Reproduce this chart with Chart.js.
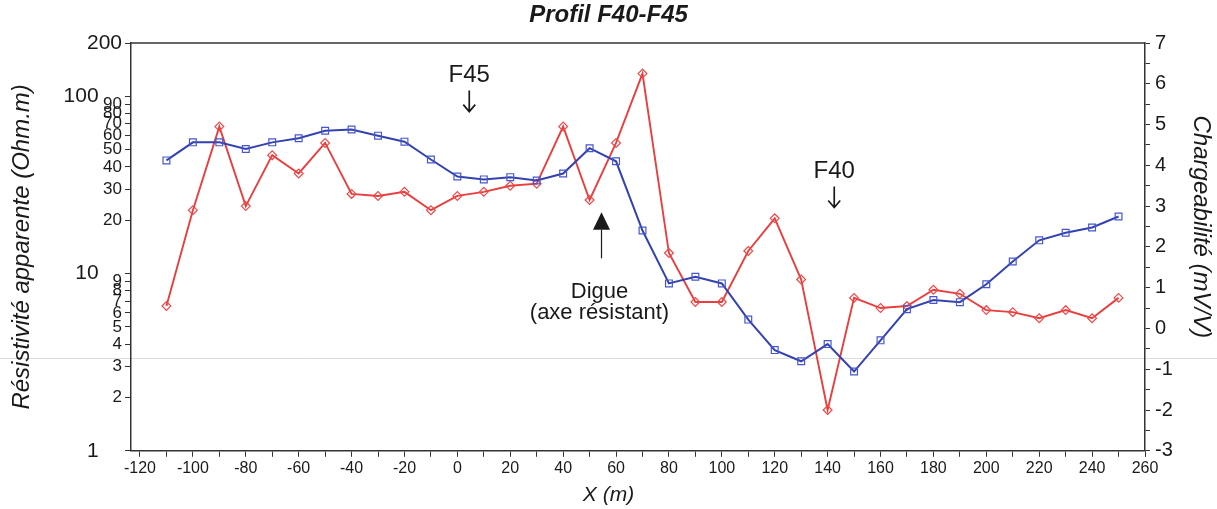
<!DOCTYPE html>
<html>
<head>
<meta charset="utf-8">
<title>Profil F40-F45</title>
<script src="https://cdn.jsdelivr.net/npm/chart.js@4.4.1/dist/chart.umd.min.js"></script>
<style>
  html, body { margin: 0; padding: 0; background: #fff; }
  #chart { display: block; }
</style>
</head>
<body>
<canvas id="chart" width="1217" height="509"></canvas>
<script>
/* ---------- Data ---------- */
const xPositions = [-110, -100, -90, -80, -70, -60, -50, -40, -30, -20, -10, 0, 10, 20, 30, 40, 50, 60, 70,
                    80, 90, 100, 110, 120, 130, 140, 150, 160, 170, 180, 190, 200, 210, 220, 230, 240, 250];

// résistivité apparente (Ohm.m) - axe log gauche
const resistivity = [43.5, 55, 55, 50.5, 55, 58, 64, 65, 60, 55.5, 44, 35.3, 34, 35, 33.5, 36.7, 51, 43, 17.5,
                     8.8, 9.6, 8.8, 5.5, 3.7, 3.2, 4.0, 2.8, 4.2, 6.3, 7.1, 6.9, 8.7, 11.7, 15.4, 17, 18.2, 21];

// chargeabilité (mV/V) - axe droit
const chargeability = [0.55, 2.9, 4.95, 3.0, 4.25, 3.8, 4.55, 3.3, 3.25, 3.35, 2.9, 3.25, 3.35, 3.5, 3.55, 4.95, 3.15, 4.55, 6.25,
                       1.85, 0.65, 0.65, 1.9, 2.7, 1.2, -2.0, 0.75, 0.5, 0.55, 0.95, 0.85, 0.45, 0.4, 0.25, 0.45, 0.25, 0.75];

const xTicks   = [-120, -110, -100, -90, -80, -70, -60, -50, -40, -30, -20, -10, 0, 10, 20, 30, 40, 50, 60, 70, 80,
                  90, 100, 110, 120, 130, 140, 150, 160, 170, 180, 190, 200, 210, 220, 230, 240, 250, 260];
const resTicks = [1, 2, 3, 4, 5, 6, 7, 8, 9, 10, 20, 30, 40, 50, 60, 70, 80, 90, 100, 200];
const resMajor = [1, 10, 100];
const chgTicks = [-3, -2.5, -2, -1.5, -1, -0.5, 0, 0.5, 1, 1.5, 2, 2.5, 3, 3.5, 4, 4.5, 5, 5.5, 6, 6.5, 7];

// annotations (en unités X / chargeabilité)
const wells     = ['F45', 'F40'];
const wellX     = [4.5, 142.5];
const wellY     = [6.2, 3.85];
const digueX    = 54.5;
const digueText = ['Digue', '(axe résistant)'];

/* ---------- Styles ---------- */
const FONT  = '"Liberation Sans", Arial, Helvetica, sans-serif';
const BLUE  = '#3442b0';
const RED   = '#e93e3e';
const INK   = '#1a1a1a';
const AXIS  = '#333';
const NBSP  = '\u00a0';

/* ---------- Plugin: cadre, annotations ---------- */
const frameAndNotes = {
  id: 'frameAndNotes',
  beforeDraw(chart) {
    const { ctx, width, scales: { yChg } } = chart;
    // trait gris du scan
    const yScan = Math.round(yChg.getPixelForValue(-0.72)) + 0.5;
    ctx.save();
    ctx.strokeStyle = '#dcdcdc';
    ctx.lineWidth = 1;
    ctx.beginPath();
    ctx.moveTo(0, yScan);
    ctx.lineTo(width, yScan);
    ctx.stroke();
    ctx.restore();
  },
  afterDraw(chart) {
    const { ctx, chartArea: ca, scales: { x, yChg } } = chart;
    ctx.save();
    // bord supérieur
    ctx.strokeStyle = AXIS;
    ctx.lineWidth = 1.5;
    ctx.beginPath();
    ctx.moveTo(ca.left, ca.top);
    ctx.lineTo(ca.right, ca.top);
    ctx.stroke();

    ctx.fillStyle = INK;
    ctx.strokeStyle = INK;
    ctx.textAlign = 'center';
    ctx.textBaseline = 'middle';

    // forages F45 / F40
    ctx.font = '24px ' + FONT;
    wells.forEach((name, i) => {
      const cx = x.getPixelForValue(wellX[i]);
      const cy = yChg.getPixelForValue(wellY[i]);
      ctx.fillText(name, cx, cy);
      const y1 = cy + 15, y2 = cy + 36;
      ctx.lineWidth = 1.7;
      ctx.beginPath();
      ctx.moveTo(cx, y1);
      ctx.lineTo(cx, y2);
      ctx.moveTo(cx - 6, y2 - 7);
      ctx.lineTo(cx, y2);
      ctx.lineTo(cx + 6, y2 - 7);
      ctx.stroke();
    });

    // flèche pleine de la digue
    const dx = x.getPixelForValue(digueX);
    const tipY = yChg.getPixelForValue(2.85);
    const baseY = yChg.getPixelForValue(2.42);
    const tailY = yChg.getPixelForValue(1.72);
    ctx.beginPath();
    ctx.moveTo(dx, tipY);
    ctx.lineTo(dx - 8.5, baseY);
    ctx.lineTo(dx + 8.5, baseY);
    ctx.closePath();
    ctx.fill();
    ctx.lineWidth = 1.2;
    ctx.beginPath();
    ctx.moveTo(dx, baseY);
    ctx.lineTo(dx, tailY);
    ctx.stroke();

    ctx.font = '22px ' + FONT;
    ctx.fillText(digueText[0], dx - 2, yChg.getPixelForValue(0.9));
    ctx.fillText(digueText[1], dx - 2, yChg.getPixelForValue(0.37));
    ctx.restore();
  }
};

/* ---------- Chart ---------- */
const ctx = document.getElementById('chart');

new Chart(ctx, {
  type: 'line',
  data: {
    datasets: [
      {
        label: 'Résistivité apparente',
        data: xPositions.map((x, i) => ({ x, y: resistivity[i] })),
        yAxisID: 'yRes',
        borderColor: BLUE,
        borderWidth: 2,
        pointStyle: 'rect',
        pointRadius: 4.8,
        pointBorderColor: '#4656d0',
        pointBorderWidth: 1.2,
        pointBackgroundColor: 'rgba(255,255,255,0)',
        tension: 0
      },
      {
        label: 'Chargeabilité',
        data: xPositions.map((x, i) => ({ x, y: chargeability[i] })),
        yAxisID: 'yChg',
        borderColor: RED,
        borderWidth: 1.9,
        pointStyle: 'rectRot',
        pointRadius: 4.4,
        pointBorderColor: '#f04848',
        pointBorderWidth: 1.2,
        pointBackgroundColor: 'rgba(255,255,255,0)',
        tension: 0
      }
    ]
  },
  options: {
    responsive: false,
    animation: false,
    layout: { padding: 0 },
    plugins: {
      legend: { display: false },
      tooltip: { enabled: false },
      title: {
        display: true,
        text: 'Profil F40-F45',
        color: INK,
        font: { family: FONT, size: 24, weight: 'bold', style: 'italic' },
        padding: { top: 1, bottom: 13.2 }
      },
      subtitle: {
        display: true,
        position: 'bottom',
        text: 'X (m)',
        color: INK,
        font: { family: FONT, size: 21, style: 'italic' },
        padding: { top: 0, bottom: 1 }
      }
    },
    scales: {
      x: {
        type: 'linear',
        min: -123.4,
        max: 260,
        afterBuildTicks: (s) => { s.ticks = xTicks.map(v => ({ value: v })); },
        afterFit: (s) => { s.height = 32; },
        ticks: {
          autoSkip: false,
          maxRotation: 0,
          padding: 2,
          color: INK,
          font: { family: FONT, size: 16 },
          callback: (v) => (v % 20 === 0 ? String(v) : '')
        },
        grid: { drawOnChartArea: false, drawTicks: true, tickLength: 6, color: AXIS },
        border: { color: AXIS, width: 1.5 }
      },
      yRes: {
        type: 'logarithmic',
        position: 'left',
        min: 1,
        max: 200,
        afterBuildTicks: (s) => { s.ticks = resTicks.map(v => ({ value: v })); },
        afterFit: (s) => { s.width = 131; },
        ticks: {
          autoSkip: false,
          padding: 3,
          color: INK,
          font: (c) => {
            const v = c.tick ? c.tick.value : 0;
            return { family: FONT, size: (resMajor.includes(v) || v === 200) ? 21 : 17 };
          },
          callback: (v) => (resMajor.includes(v) ? v + NBSP.repeat(4) : String(v))
        },
        grid: { drawOnChartArea: false, drawTicks: true, tickLength: 6, color: AXIS },
        border: { color: AXIS, width: 1.5 },
        title: {
          display: true,
          text: 'Résistivité apparente (Ohm.m)',
          color: INK,
          font: { family: FONT, size: 24, style: 'italic' },
          padding: { top: 8 }
        }
      },
      yChg: {
        type: 'linear',
        position: 'right',
        min: -3,
        max: 7,
        afterBuildTicks: (s) => { s.ticks = chgTicks.map(v => ({ value: v })); },
        afterFit: (s) => { s.width = 72; },
        ticks: {
          autoSkip: false,
          padding: 5,
          color: INK,
          font: { family: FONT, size: 20 },
          callback: (v) => (Number.isInteger(v) ? String(v) : '')
        },
        grid: { drawOnChartArea: false, drawTicks: true, tickLength: 5, color: AXIS },
        border: { color: AXIS, width: 1.5 },
        title: {
          display: true,
          text: 'Chargeabilité (mV/V)' + NBSP.repeat(6),
          color: INK,
          font: { family: FONT, size: 24, style: 'italic' },
          padding: { top: 2 }
        }
      }
    }
  },
  plugins: [frameAndNotes]
});
</script>
</body>
</html>
